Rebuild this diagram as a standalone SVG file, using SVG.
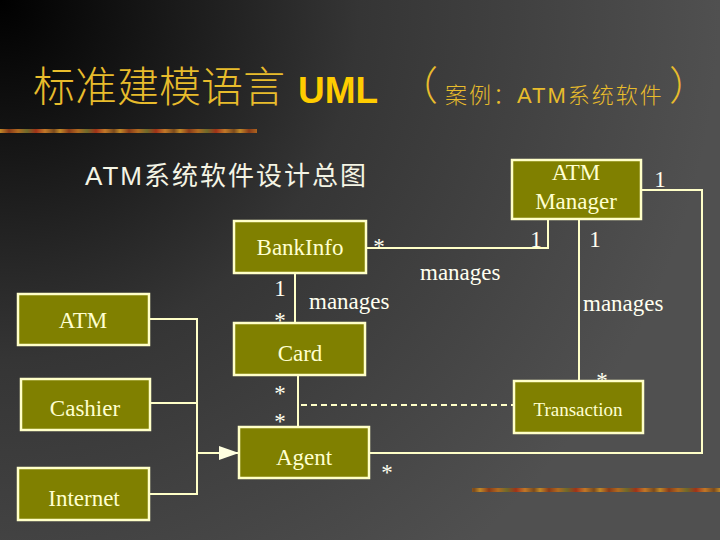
<svg xmlns="http://www.w3.org/2000/svg" width="720" height="540" viewBox="0 0 720 540">
<defs>
<radialGradient id="bg" cx="0" cy="0" r="720" gradientUnits="userSpaceOnUse">
<stop offset="0" stop-color="#000000"/>
<stop offset="0.5" stop-color="#353535"/>
<stop offset="1" stop-color="#505050"/>
</radialGradient>
<linearGradient id="strip" x1="0" y1="0" x2="60" y2="0" gradientUnits="userSpaceOnUse" spreadMethod="repeat">
<stop offset="0" stop-color="#C08828"/>
<stop offset="0.15" stop-color="#8A3A18"/>
<stop offset="0.3" stop-color="#B06A20"/>
<stop offset="0.45" stop-color="#6E6A2A"/>
<stop offset="0.6" stop-color="#A03218"/>
<stop offset="0.75" stop-color="#C07828"/>
<stop offset="0.9" stop-color="#7A4A1C"/>
<stop offset="1" stop-color="#C08828"/>
</linearGradient>
<marker id="tri" viewBox="0 0 20 14" refX="20" refY="7" markerWidth="20" markerHeight="14" markerUnits="userSpaceOnUse" orient="auto">
<path d="M0,0 L20,7 L0,14 Z" fill="#FFFFE0"/>
</marker>
<style>
.box{fill:#808000;stroke:#FFFFC8;stroke-width:2.5}
.bt{font-family:"Liberation Serif","Times New Roman",serif;font-size:23px;fill:#FFFFD0;text-anchor:middle}
.lbl{font-family:"Liberation Serif","Times New Roman",serif;font-size:23px;fill:#FFFFF0}
.c{fill:none;stroke:#FFFFC8;stroke-width:2}
.title{font-family:"Noto Sans CJK SC","Noto Sans",sans-serif;fill:#E8BC2C;font-weight:300}
</style>
</defs>
<rect width="720" height="540" fill="url(#bg)"/>
<rect x="0" y="129" width="257" height="4" fill="url(#strip)"/>
<rect x="472" y="488" width="248" height="4" fill="url(#strip)"/>

<g id="title">
<text class="title" x="33" y="102" font-size="42">标准建模语言</text>
<text x="298" y="103" font-family="'Liberation Sans',Arial,sans-serif" font-weight="bold" font-size="37" fill="#FFCC00">UML</text>
<text class="title" x="398" y="100" font-size="40">（</text>
<text class="title" x="445" y="103" font-size="22" letter-spacing="2">案例：<tspan font-family="'Liberation Sans',Arial,sans-serif">ATM</tspan>系统软件</text>
<text class="title" x="669" y="100" font-size="40">）</text>
</g>
<text id="subtitle" x="85" y="185" font-family="'Liberation Sans',Arial,'Noto Sans CJK SC',sans-serif" font-size="26" fill="#F4F4E4" letter-spacing="2">ATM系统软件设计总图</text>

<g id="connectors">
<polyline class="c" points="366,248 548,248 548,219"/>
<line class="c" x1="579" y1="219" x2="579" y2="381"/>
<polyline class="c" points="642,190 702,190 702,453 369,453"/>
<line class="c" x1="295" y1="273" x2="295" y2="323"/>
<line class="c" x1="298" y1="375" x2="298" y2="427"/>
<line class="c" x1="301" y1="405" x2="514" y2="405" stroke-dasharray="6,4"/>
<polyline class="c" points="149,319 197,319 197,494 149,494"/>
<line class="c" x1="150" y1="403" x2="197" y2="403"/>
<line class="c" x1="197" y1="453" x2="239" y2="453" marker-end="url(#tri)"/>
<text class="lbl" x="379" y="254" text-anchor="middle">*</text>
<text class="lbl" x="536" y="247" text-anchor="middle">1</text>
<text class="lbl" x="595" y="247" text-anchor="middle">1</text>
<text class="lbl" x="660" y="187" text-anchor="middle">1</text>
<text class="lbl" x="420" y="280">manages</text>
<text class="lbl" x="280" y="296" text-anchor="middle">1</text>
<text class="lbl" x="280" y="328" text-anchor="middle">*</text>
<text class="lbl" x="309" y="309">manages</text>
<text class="lbl" x="583" y="311">manages</text>
<text class="lbl" x="280" y="401" text-anchor="middle">*</text>
<text class="lbl" x="280" y="429" text-anchor="middle">*</text>
<text class="lbl" x="387" y="480" text-anchor="middle">*</text>
<text class="lbl" x="602" y="388" text-anchor="middle">*</text>
</g>

<g id="atm-manager">
<rect class="box" x="512" y="160" width="129" height="59"/>
<text class="bt" x="576" y="180">ATM</text>
<text class="bt" x="576" y="209">Manager</text>
</g>
<g id="bankinfo">
<rect class="box" x="234" y="221" width="132" height="52"/>
<text class="bt" x="300" y="255">BankInfo</text>
</g>
<g id="atm">
<rect class="box" x="18" y="294" width="131" height="51"/>
<text class="bt" x="83" y="328">ATM</text>
</g>
<g id="cashier">
<rect class="box" x="21" y="379" width="129" height="51"/>
<text class="bt" x="85" y="416">Cashier</text>
</g>
<g id="internet">
<rect class="box" x="18" y="468" width="131" height="52"/>
<text class="bt" x="84" y="506">Internet</text>
</g>
<g id="card">
<rect class="box" x="234" y="323" width="131" height="52"/>
<text class="bt" x="300" y="361">Card</text>
</g>
<g id="agent">
<rect class="box" x="239" y="427" width="130" height="51"/>
<text class="bt" x="304" y="465">Agent</text>
</g>
<g id="transaction">
<rect class="box" x="514" y="381" width="129" height="52"/>
<text class="bt" x="578" y="416" style="font-size:19px">Transaction</text>
</g>
</svg>
